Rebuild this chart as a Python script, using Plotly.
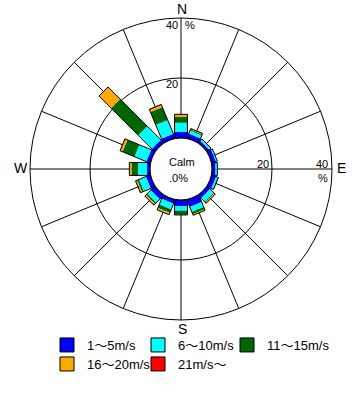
import numpy as np
import plotly.graph_objects as go

# ---------------- data ----------------
directions = ['N', 'NNE', 'NE', 'ENE', 'E', 'ESE', 'SE', 'SSE',
              'S', 'SSW', 'SW', 'WSW', 'W', 'WNW', 'NW', 'NNW']
cardinal_labels = ['N', 'E', 'S', 'W']
speed_labels = ['1～5m/s', '6～10m/s', '11～15m/s', '16～20m/s', '21m/s～']
speed_colors = ['#0000FF', '#00FFFF', '#006600', '#FFAA00', '#FF0000']

# frequency (%) per direction for each wind-speed class
freq_1_5   = [2.0, 1.6, 0.9, 1.4, 1.2, 1.5, 1.3, 2.5, 2.1, 1.3, 1.8, 1.5, 1.0, 1.3, 1.3, 1.5]
freq_6_10  = [3.1, 1.1, 0.6, 0.5, 0.6, 0.6, 1.7, 1.8, 1.5, 2.1, 1.7, 2.5, 3.0, 4.3, 6.4, 5.0]
freq_11_15 = [1.9, 0.3, 0.1, 0.0, 0.0, 0.2, 0.3, 0.8, 1.3, 1.2, 0.5, 0.6, 2.2, 4.3, 12.8, 4.6]
freq_16_20 = [0.8, 0.3, 0.1, 0.0, 0.0, 0.0, 0.3, 0.4, 0.1, 0.6, 0.4, 0.4, 0.7, 0.7, 5.5, 0.8]
freq_21    = [0.1, 0.1, 0.0, 0.0, 0.0, 0.0, 0.1, 0.0, 0.0, 0.1, 0.2, 0.2, 0.0, 0.2, 0.2, 0.2]
calm_pct = 0.0
radial_ticks = [0, 20, 40]

series = [freq_1_5, freq_6_10, freq_11_15, freq_16_20, freq_21]

# ---------------- geometry (data units = %) ----------------
RADIAL_MAX = 40
HOLE = 0.205
hole_u = HOLE / (1 - HOLE) * RADIAL_MAX     # hole radius in % units
BAR_HALF = 2.15                             # half bar width in % units
dir_angles = [i * 360 / len(directions) for i in range(len(directions))]


def rect(phi, a, b):
    """Rectangle (constant width) bar segment from a to b along direction phi."""
    rs, ts = [], []
    for d, side in ((a, -1), (b, -1), (b, 1), (a, 1), (a, -1)):
        dd = hole_u + d
        rs.append(float(np.hypot(dd, BAR_HALF) - hole_u))
        ts.append(float(phi + side * np.degrees(np.arctan2(BAR_HALF, dd))))
    return rs, ts


fig = go.Figure()

cum = np.zeros(len(directions))
for vals, col in zip(series, speed_colors):
    R, T = [], []
    for i, phi in enumerate(dir_angles):
        a, b = cum[i], cum[i] + vals[i]
        if vals[i] > 0:
            rs, ts = rect(phi, a, b)
            R += rs + [None]
            T += ts + [None]
    cum += np.array(vals)
    fig.add_trace(go.Scatterpolar(r=R, theta=T, mode='lines', fill='toself',
                                  fillcolor=col, line=dict(width=0, color=col),
                                  showlegend=False, hoverinfo='skip'))

# outlines of the whole stacked bars
R, T = [], []
for i, phi in enumerate(dir_angles):
    rs, ts = rect(phi, 0, cum[i])
    R += rs + [None]
    T += ts + [None]
fig.add_trace(go.Scatterpolar(r=R, theta=T, mode='lines',
                              line=dict(width=1, color='black'),
                              showlegend=False, hoverinfo='skip'))

# ---------------- page geometry ----------------
L, R_, T_, B = 30, 24, 18, 84
W, H = 356, 404
pw, ph = W - L - R_, H - T_ - B


def px(x, y):
    return (x - L) / pw, (H - B - y) / ph


# legend entries: one legend per entry so they sit on the reference grid
legend_pos = [(67, 345), (158, 345), (247, 345), (67, 364), (158, 364)]
legend_layouts = {}
for k, (lab, col) in enumerate(zip(speed_labels, speed_colors)):
    lname = 'legend' if k == 0 else 'legend%d' % (k + 1)
    fig.add_trace(go.Scatterpolar(r=[None], theta=[None], mode='markers', name=lab,
                                  legend=lname,
                                  marker=dict(symbol='square', size=14, color=col,
                                              line=dict(color='black', width=1)),
                                  showlegend=True, hoverinfo='skip'))
    bx, by = legend_pos[k]
    lx, ly = px(bx - 20, by)
    legend_layouts[lname] = dict(x=lx, y=ly, xanchor='left', yanchor='middle',
                                 orientation='h', font=dict(size=13, color='black'),
                                 itemsizing='trace', bgcolor='rgba(0,0,0,0)',
                                 borderwidth=0)

annos = []


def add_text(text, x, y, xanchor='center', size=11):
    xx, yy = px(x, y)
    annos.append(dict(text=text, x=xx, y=yy, xref='paper', yref='paper',
                      xanchor=xanchor, yanchor='middle', showarrow=False,
                      font=dict(size=size, color='black')))


# radial scale labels
add_text(str(radial_ticks[1]), 180, 84, 'right')
add_text(str(radial_ticks[2]), 180, 24.5, 'right')
add_text('%', 183, 24.5, 'left')
add_text(str(radial_ticks[1]), 271, 163.5, 'right')
add_text(str(radial_ticks[2]), 330, 163.5, 'right')
add_text('%', 330, 178, 'right')
# calm
add_text('Calm', 181.5, 162, 'center')
add_text('.0%' if calm_pct == 0 else '%.1f%%' % calm_pct, 178, 177.5, 'center')
# compass points
for lab, (x, y) in zip(cardinal_labels, [(182, 9.5), (341, 168), (182, 328.5), (21, 168)]):
    add_text(lab, x, y, 'center', size=14)

fig.update_layout(
    width=W, height=H,
    margin=dict(l=L, r=R_, t=T_, b=B, autoexpand=False),
    paper_bgcolor='white',
    font=dict(family='Liberation Sans, Noto Sans CJK JP, sans-serif', color='black'),
    polar=dict(
        bgcolor='white', hole=HOLE,
        domain=dict(x=[0, 1], y=[0, 1]),
        radialaxis=dict(range=[0, RADIAL_MAX], tickmode='array', tickvals=radial_ticks,
                        showticklabels=False, ticks='', showline=False,
                        gridcolor='black', gridwidth=1),
        angularaxis=dict(rotation=90, direction='clockwise', tickmode='array',
                         tickvals=dir_angles, showticklabels=False, ticks='',
                         showline=True, linecolor='black', linewidth=1,
                         gridcolor='black', gridwidth=1),
    ),
    showlegend=True,
    annotations=annos,
    **legend_layouts,
)

fig.write_html('out.html', config={'displayModeBar': False},
               post_script="document.body.style.margin='0px';")
